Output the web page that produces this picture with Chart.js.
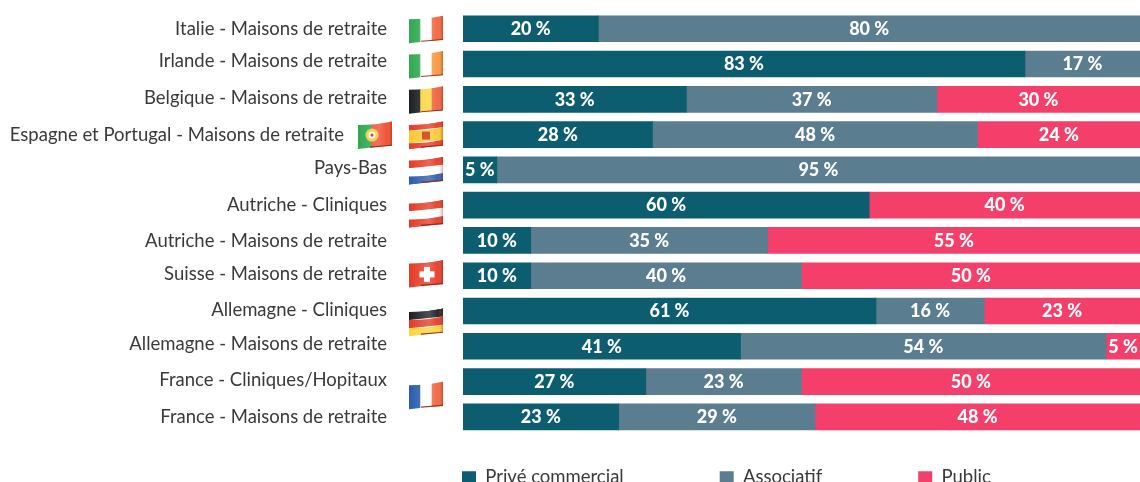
<!DOCTYPE html>
<html><head><meta charset="utf-8">
<script src="https://cdn.jsdelivr.net/npm/chart.js@4"></script>
<style>html,body{margin:0;padding:0;background:#fff}canvas{display:block}</style>
</head><body><canvas id="c" width="1140" height="482"></canvas>
<script>
const categories = ["Italie - Maisons de retraite","Irlande - Maisons de retraite","Belgique - Maisons de retraite","Espagne et Portugal - Maisons de retraite","Pays-Bas","Autriche - Cliniques","Autriche - Maisons de retraite","Suisse - Maisons de retraite","Allemagne - Cliniques","Allemagne - Maisons de retraite","France - Cliniques/Hopitaux","France - Maisons de retraite"];
const prive = [20,83,33,28,5,60,10,10,61,41,27,23];
const associatif = [80,17,37,48,95,null,35,40,16,54,23,29];
const publicS = [null,null,30,24,null,40,55,50,23,5,50,48];
const seriesNames = ["Privé commercial","Associatif","Public"];
const seriesColors = ["#0C5D70","#5A7D8F","#F43F6B"];
const labelNudge = [0,-3,-2,0,-2,-1,0,-2,-1,-3,-2,0];
const labelShift = [0,0,0,-43,0,0,0,0,0,0,0,0];
const flagList = [
 {row:0,cols:["#2FA84F","#FFFFFF","#F0643C"]},
 {row:1,cols:["#2FA84F","#FFFFFF","#F7963C"]},
 {row:2,cols:["#1C1F22","#FBD535","#EE5F3A"]},
 {row:3,cols:["#E63A25","#FBC82F","#E63A25"],horiz:true,w:[1,2,1]},
 {row:3,cols:["#2FA84F","#EE4B2B"],w:[2,3],dx:-51},
 {row:4,cols:["#E63A25","#FFFFFF","#2A5DAE"],horiz:true},
 {row:5.22,cols:["#E63A25","#FFFFFF","#E63A25"],horiz:true},
 {row:6.92,cols:["#E63A25"],cross:true},
 {row:8.3,cols:["#1C1F22","#E63A25","#FBD535"],horiz:true},
 {row:10.37,cols:["#2A5DAE","#FFFFFF","#F0643C"]}
];
function flagPath(g,x,y){
  g.beginPath();
  g.moveTo(x,y-9.5);
  g.quadraticCurveTo(x+18,y-9.5,x+34,y-13);
  g.lineTo(x+34,y+11);
  g.quadraticCurveTo(x+18,y+12,x,y+14.5);
  g.closePath();
}
const flagsPlugin = {
  id:'flags',
  afterDraw(chart){
    const g=chart.ctx, yS=chart.scales.y;
    flagList.forEach(f=>{
      const x=409+(f.dx||0), y=yS.getPixelForValue(f.row);
      g.save();
      flagPath(g,x,y); g.clip();
      const w=f.w||f.cols.map(()=>1), tot=w.reduce((a,b)=>a+b,0);
      let acc=0;
      f.cols.forEach((c,i)=>{
        g.fillStyle=c;
        if(f.horiz){
          const a=-13+25*acc/tot, b=-13+25*(acc+w[i])/tot;
          g.beginPath();
          g.moveTo(x,y+a+3); g.quadraticCurveTo(x+18,y+a+3,x+34,y+a-.5);
          g.lineTo(x+34,y+b-.5); g.quadraticCurveTo(x+18,y+b+1,x,y+b+3);
          g.closePath(); g.fill();
          if(i===f.cols.length-1) g.fillRect(x,y+b,34,6);
          if(i===0) g.fillRect(x,y-16,34,6);
        } else {
          g.fillRect(x+34*acc/tot,y-16,34*w[i]/tot+.5,32);
        }
        acc+=w[i];
      });
      const sh=g.createLinearGradient(x,0,x+34,0);
      sh.addColorStop(0,'rgba(255,255,255,0)');
      sh.addColorStop(.6,'rgba(255,255,255,.22)');
      sh.addColorStop(.85,'rgba(255,255,255,.05)');
      sh.addColorStop(1,'rgba(130,20,10,.35)');
      g.fillStyle=sh; g.fillRect(x,y-16,34,32);
      if(f.cross){
        g.fillStyle='#fff';
        g.fillRect(x+15,y-6,6,15); g.fillRect(x+10.5,y-1.5,15,6);
      }
      if(f.row===3&&!f.dx){
        g.fillStyle='#D0592E'; g.fillRect(x+13,y-3,8,8);
      }
      if(f.row===3&&f.dx){
        g.fillStyle='#F3D15C'; g.beginPath(); g.arc(x+14,y+.5,6.5,0,7); g.fill();
        g.fillStyle='#fff'; g.beginPath(); g.arc(x+14,y+.5,3.5,0,7); g.fill();
        g.fillStyle='#D9452B'; g.beginPath(); g.arc(x+14,y+.5,1.6,0,7); g.fill();
      }
      g.restore();
      g.strokeStyle='rgba(150,25,15,.85)'; g.lineWidth=1.1;
      g.beginPath(); g.moveTo(x+12,y+12.5); g.quadraticCurveTo(x+24,y+11.5,x+34,y+10.7); g.stroke();
    });
  }
};
const layoutPlugin = {
  id:'layoutFix',
  beforeLayout(chart){
    const lg=chart.legend;
    if(lg && !lg._wrapped){
      const f=lg.fit;
      lg.fit=function(){f.call(this); this.height=47.5;};
      lg._wrapped=true;
    }
  },
  afterLayout(chart){
    const lg=chart.legend, pad=lg.options.labels.padding;
    lg.left=462-pad; lg.top=468-pad; lg.right=1140; lg.bottom=482;
    chart.scales.y.getLabelItems().forEach((it,i)=>{
      const t=it.options.translation;
      it.options.translation=[t[0]+labelShift[i],t[1]+labelNudge[i]+.5];
    });
  }
};
const valuePlugin = {
  id:'values',
  afterDatasetsDraw(chart){
    const g=chart.ctx;
    g.save();
    g.fillStyle='#fff'; g.font='900 18px Lato'; g.textAlign='center'; g.textBaseline='middle';
    chart.data.datasets.forEach((ds,i)=>{
      chart.getDatasetMeta(i).data.forEach((el,j)=>{
        const v=ds.data[j]; if(v==null) return;
        g.fillText(v+' %',(el.x+el.base)/2,el.y+.5);
      });
    });
    g.restore();
  }
};
new Chart(document.getElementById('c'),{
  type:'bar',
  data:{labels:categories,datasets:[
    {label:seriesNames[0],data:prive,backgroundColor:seriesColors[0]},
    {label:seriesNames[1],data:associatif,backgroundColor:seriesColors[1]},
    {label:seriesNames[2],data:publicS,backgroundColor:seriesColors[2]}
  ]},
  options:{
    indexAxis:'y',responsive:false,animation:false,
    layout:{padding:{top:8.5,left:0,right:0,bottom:0}},
    datasets:{bar:{barThickness:26,borderWidth:0}},
    scales:{
      x:{stacked:true,min:0,max:100,display:false},
      y:{stacked:true,
        afterFit(s){s.width=463;},
        border:{display:false},grid:{display:false,drawTicks:true,tickLength:76},
        ticks:{padding:0,color:'#3A3A3A',autoSkip:false,font:{family:'Lato',size:18.5}}}
    },
    plugins:{
      tooltip:{enabled:false},
      legend:{position:'bottom',align:'start',
        labels:{boxWidth:14,boxHeight:12,padding:96,color:'#3A3A3A',font:{family:'Lato',size:18.5}}}
    }
  },
  plugins:[layoutPlugin,valuePlugin,flagsPlugin]
});
</script></body></html>
